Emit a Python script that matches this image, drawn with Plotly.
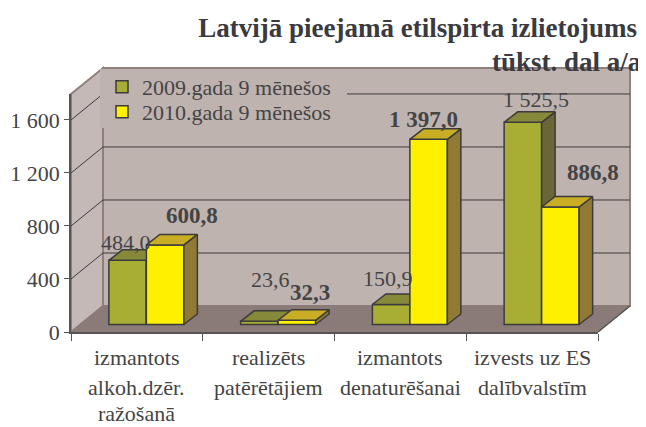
import plotly.graph_objects as go

categories = [["izmantots", "alkoh.dzēr.", "ražošanā"],
              ["realizēts", "patērētājiem"],
              ["izmantots", "denaturēšanai"],
              ["izvests uz ES", "dalībvalstīm"]]
series_2009 = [484.0, 23.6, 150.9, 1525.5]
series_2010 = [600.8, 32.3, 1397.0, 886.8]
labels_2009 = ["484,0", "23,6", "150,9", "1 525,5"]
labels_2010 = ["600,8", "32,3", "1 397,0", "886,8"]
name_2009 = "2009.gada 9 mēnešos"
name_2010 = "2010.gada 9 mēnešos"
y_ticks = [0, 400, 800, 1200, 1600]
y_tick_text = ["0", "400", "800", "1 200", "1 600"]
title_lines = ["Latvijā pieejamā etilspirta izlietojums", "tūkst. dal a/a"]

# --- layout geometry (category units / value units); the page body adds an 8 px margin ---
PAGE = 8
W, H = 646 - PAGE, 427 - PAGE
L, R, T, B = 71 - PAGE, 598 - PAGE, 94 - PAGE, 332 - PAGE
YMAX = 1796
px_x = (R - L) / 4
px_y = (B - T) / YMAX
WALL_DX, WALL_DY = 32 / px_x, 26 / px_y
BAR_DX, BAR_DY = 13.5 / px_x, 10.5 / px_y
FLOOR_Y = 7.5 / px_y
GROUP_SHIFT = 9.5 / px_x
BAR_W = 37.5 / px_x
INK = "#3b3b3b"
TEXT = "#444444"
WALL = "#bfb3b0"
FONT = "Liberation Serif"
offs_2009 = [(-2, 18), (11, 42), (-3.5, 26), (13, 23)]
offs_2010 = [(27, 29), (13, 28), (-5, 20), (33, 34)]

fig = go.Figure()
shapes = []


def pp(x, y):
    """Axis coordinates to paper coordinates, for the frame that lies outside the plot area."""
    return x / 4, y / YMAX


def poly(pts, fill, line, width=1.5):
    path = "M" + " L".join("%f,%f" % pp(*p) for p in pts) + " Z"
    shapes.append(dict(type="path", path=path, xref="paper", yref="paper", layer="below",
                       fillcolor=fill, line=dict(color=line, width=width)))


def seg(a, b, c, d, color, width):
    x0, y0 = pp(a, b)
    x1, y1 = pp(c, d)
    shapes.append(dict(type="line", x0=x0, y0=y0, x1=x1, y1=y1, xref="paper", yref="paper",
                       layer="below", line=dict(color=color, width=width)))


# walls, floor and gridlines
poly([(WALL_DX, WALL_DY), (4 + WALL_DX, WALL_DY), (4 + WALL_DX, YMAX + WALL_DY), (WALL_DX, YMAX + WALL_DY)],
     WALL, "#8f807c", 2)
poly([(0, 0), (WALL_DX, WALL_DY), (WALL_DX, YMAX + WALL_DY), (0, YMAX)], "#c4b9b6", "#8f807c", 2)
poly([(0, 0), (4, 0), (4 + WALL_DX, WALL_DY), (WALL_DX, WALL_DY)], "#8b7b78", "#8b7b78", 1)
for t in y_ticks[1:]:
    seg(WALL_DX, t + WALL_DY, 4 + WALL_DX, t + WALL_DY, INK, 1)
    seg(0, t, WALL_DX, t + WALL_DY, INK, 1)
seg(4, 0, 4 + WALL_DX, WALL_DY, "#555555", 1.5)
# plain panel behind the legend entries
shapes.append(dict(type="rect", xref="paper", yref="paper", layer="below",
                   x0=(100 - PAGE - L) / (R - L), x1=(347 - PAGE - L) / (R - L),
                   y0=(B - (128 - PAGE)) / (B - T), y1=(B - (69 - PAGE)) / (B - T),
                   fillcolor=WALL, line=dict(width=0)))


def draw_series(vals, pos, name, legend, front, top, side, xa, ya):
    xc = [i + 0.5 + GROUP_SHIFT + pos * BAR_W for i in range(4)]
    fig.add_trace(go.Bar(x=xc, y=vals, base=[FLOOR_Y] * 4, width=BAR_W, name=name, legend=legend,
                         marker=dict(color=front, line=dict(color=INK, width=1.5)),
                         hoverinfo="skip", xaxis=xa, yaxis=ya))
    tx, ty, sx, sy = [], [], [], []
    for c, v in zip(xc, vals):
        l, r = c - BAR_W / 2, c + BAR_W / 2
        b, t = FLOOR_Y, FLOOR_Y + v
        tx += [l, r, r + BAR_DX, l + BAR_DX, l, None]
        ty += [t, t, t + BAR_DY, t + BAR_DY, t, None]
        sx += [r, r + BAR_DX, r + BAR_DX, r, r, None]
        sy += [b, b + BAR_DY, t + BAR_DY, t, b, None]
    for px, py, col in ((sx, sy, side), (tx, ty, top)):
        fig.add_trace(go.Scatter(x=px, y=py, mode="lines", fill="toself", fillcolor=col,
                                 line=dict(color=INK, width=1.5), showlegend=False,
                                 hoverinfo="skip", xaxis=xa, yaxis=ya))
    return xc


xc09 = draw_series(series_2009, -0.5, name_2009, "legend", "#a8ad33", "#86883a", "#6b6638", "x", "y")
xc10 = draw_series(series_2010, 0.5, name_2010, "legend2", "#fff000", "#c9ae25", "#907a36", "x2", "y2")

ann = []
for xc, vals, labs, offs, bold in ((xc09, series_2009, labels_2009, offs_2009, False),
                                   (xc10, series_2010, labels_2010, offs_2010, True)):
    for c, v, s, (dx, dy) in zip(xc, vals, labs, offs):
        ann.append(dict(x=c, y=FLOOR_Y + v, xref="x", yref="y", xshift=dx, yshift=dy,
                        text=f"<b>{s}</b>" if bold else s, showarrow=False,
                        xanchor="center", yanchor="middle",
                        font=dict(family=FONT, size=23 if bold else 22, color=TEXT)))
line_px = [25, 55, 81]
for i, cat in enumerate(categories):
    for j, s in enumerate(cat):
        ann.append(dict(x=i + 0.5, y=0, xref="x", yref="y", yshift=-line_px[j], text=s,
                        showarrow=False, xanchor="center", yanchor="middle",
                        font=dict(family=FONT, size=22, color=TEXT)))
ann.append(dict(x=(644 - PAGE - L) / (R - L), y=(B - (62 - PAGE)) / (B - T), xref="paper", yref="paper",
                text=f"<b>{title_lines[1]}</b>",
                showarrow=False, xanchor="right", yanchor="middle",
                font=dict(family=FONT, size=27, color="#3a3a40")))

hidden = dict(visible=False, fixedrange=True)
leg = dict(xref="paper", yref="paper", x=(102 - PAGE - L) / (R - L), xanchor="left", yanchor="middle",
           bgcolor="rgba(0,0,0,0)", borderwidth=0, font=dict(family=FONT, size=22, color=TEXT))
fig.update_layout(
    width=W, height=H, autosize=False, paper_bgcolor="white", plot_bgcolor="rgba(0,0,0,0)",
    margin=dict(l=L, r=W - R, t=T, b=H - B, autoexpand=False), barmode="overlay",
    font=dict(family=FONT, color=TEXT),
    title=dict(text=f"<b>{title_lines[0]}</b>", x=(637 - PAGE) / W, xanchor="right", xref="container",
               y=1 - (28 - PAGE) / H, yanchor="middle", yref="container",
               font=dict(family=FONT, size=27, color="#3a3a40")),
    xaxis=dict(range=[0, 4], tickvals=list(range(5)), ticktext=[""] * 5, ticks="outside", ticklen=7,
               tickcolor="#555555", showline=True, linecolor="#555555", linewidth=1.5,
               showgrid=False, zeroline=False, fixedrange=True),
    yaxis=dict(range=[0, YMAX], tickvals=y_ticks, ticktext=y_tick_text, ticks="outside", ticklen=5,
               tickcolor="#555555", showline=True, linecolor="#555555", linewidth=1.5,
               showgrid=False, zeroline=False, fixedrange=True,
               tickfont=dict(family=FONT, size=22, color=TEXT)),
    xaxis2=dict(range=[0, 4], overlaying="x", **hidden),
    yaxis2=dict(range=[0, YMAX], overlaying="y", **hidden),
    legend=dict(y=(B - (87 - PAGE)) / (B - T), **leg),
    legend2=dict(y=(B - (112 - PAGE)) / (B - T), **leg),
    shapes=shapes,
    annotations=ann,
)
fig.write_html("out.html")
